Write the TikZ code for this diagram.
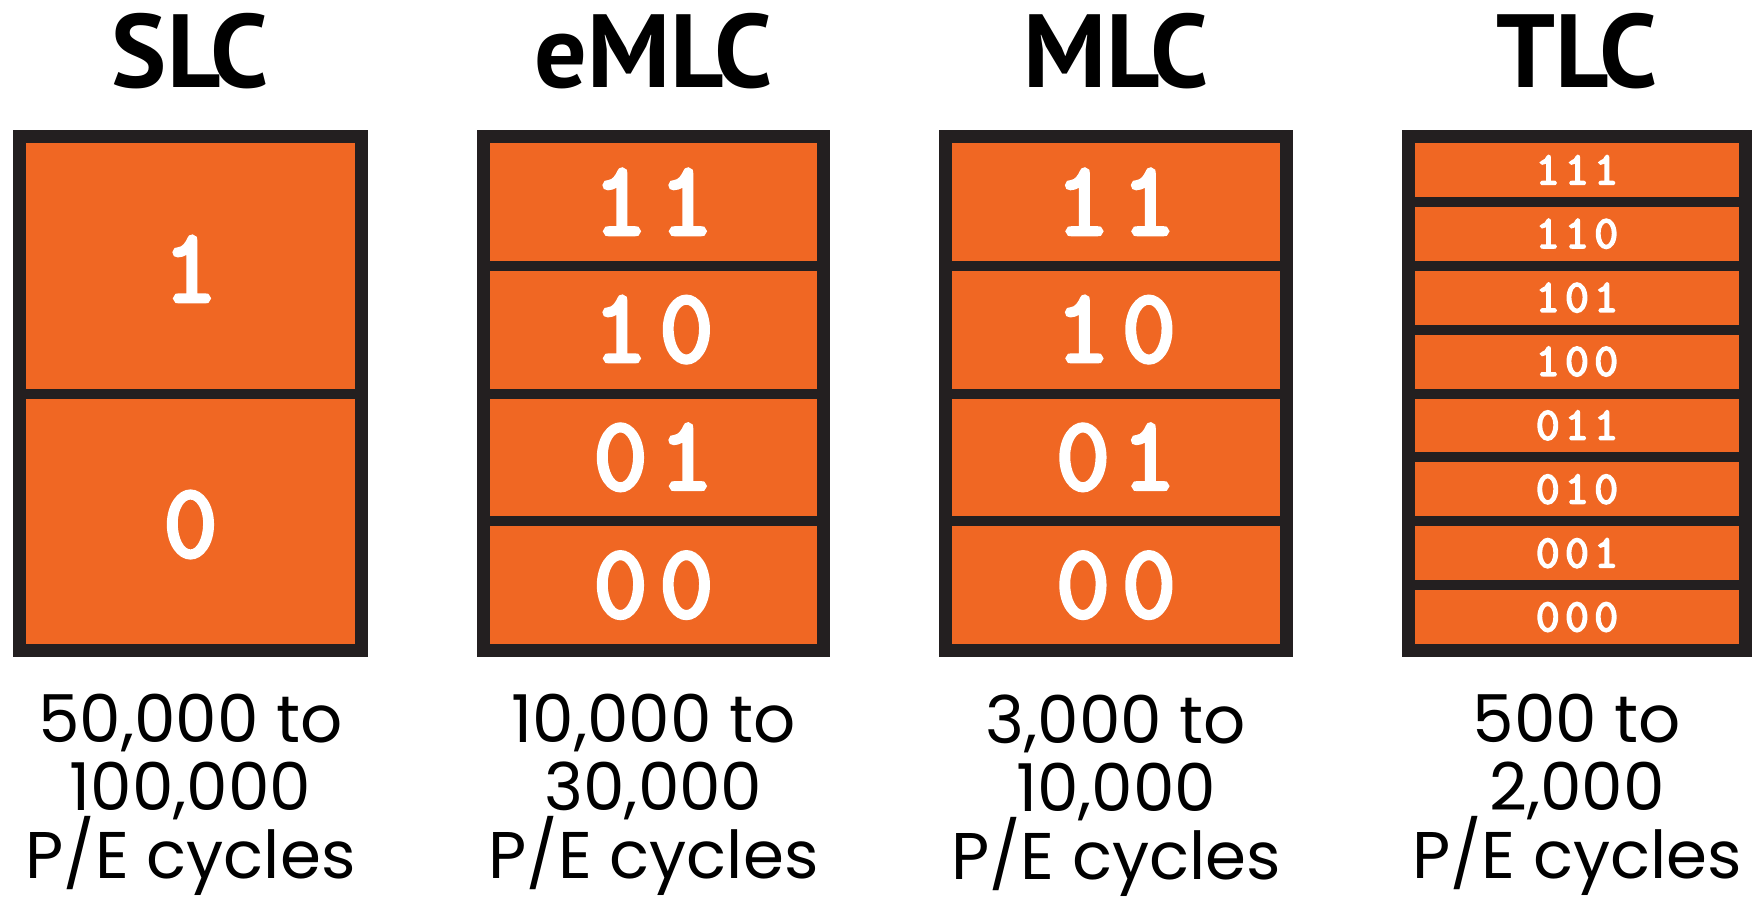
\documentclass[tikz,border=0pt]{standalone}
\usepackage{fontspec}
\setmainfont{Poppins}
\newfontfamily\headfont{PT Sans}
\newfontfamily\bitfont[FakeBold=4,LetterSpace=12]{Latin Modern Mono}
\usepackage{xcolor}
\usepackage{tikz}
\usetikzlibrary{positioning}
\definecolor{nandorange}{HTML}{F06723}
\definecolor{nandblack}{HTML}{231F20}
\newcommand\cyclesfont{\fontsize{33}{34}\selectfont\lineskiplimit-100pt\relax}

\begin{document}
\begin{tikzpicture}[x=0.5pt, y=-0.5pt,
  title/.style={anchor=base, inner sep=0pt, font=\headfont\bfseries\fontsize{52}{52}\selectfont},
  bits/.style={text=white, inner sep=0pt, font=\bitfont\fontsize{#1}{#1}\selectfont},
  cycles/.style={anchor=north, align=center, inner sep=0pt, font=\cyclesfont}]
% 1 unit = 1 pixel of the figure, y pointing down
\useasboundingbox (0,0) rectangle (1752,899);
\foreach \l/\r/\k/\t in {13/368/2/SLC, 477/830/4/eMLC, 939/1293/4/MLC, 1402/1752/8/TLC} {
  \node[title] (\t-title) at ({(\l+\r)/2},88) {\t};
  \fill[nandblack] (\l,130) rectangle (\r,657);
  \pgfmathsetmacro\h{(501-10*(\k-1))/\k}
  \foreach \i in {1,...,\k}
    \fill[nandorange] (\l+13,{143+(\i-1)*(\h+10)}) rectangle (\r-13,{143+(\i-1)*(\h+10)+\h});
}
\foreach \b [count=\i] in {1,0}
  \node[bits=52] (SLC-\b) at (190.5,{143+(\i-1)*255.5+126}) {\b};
\foreach \b [count=\i] in {11,10,01,00}
  \node[bits=52] (eMLC-\b) at (653.5,{143+(\i-1)*127.75+58.875}) {\b};
\foreach \b [count=\i] in {11,10,01,00}
  \node[bits=52] (MLC-\b) at (1116,{143+(\i-1)*127.75+58.875}) {\b};
\foreach \b [count=\i] in {111,110,101,100,011,010,001,000}
  \node[bits=23] (TLC-\b) at (1577,{143+(\i-1)*63.875+26.94}) {\b};
\node[cycles] (SLC-cycles) at (190.5,694) {50,000 to\\100,000\\P/E cycles};
\node[cycles] (eMLC-cycles) at (653.5,694) {10,000 to\\30,000\\P/E cycles};
\node[cycles] (MLC-cycles) at (1116,694) {3,000 to\\10,000\\P/E cycles};
\node[cycles] (TLC-cycles) at (1577,694) {500 to\\2,000\\P/E cycles};
\end{tikzpicture}
\end{document}
